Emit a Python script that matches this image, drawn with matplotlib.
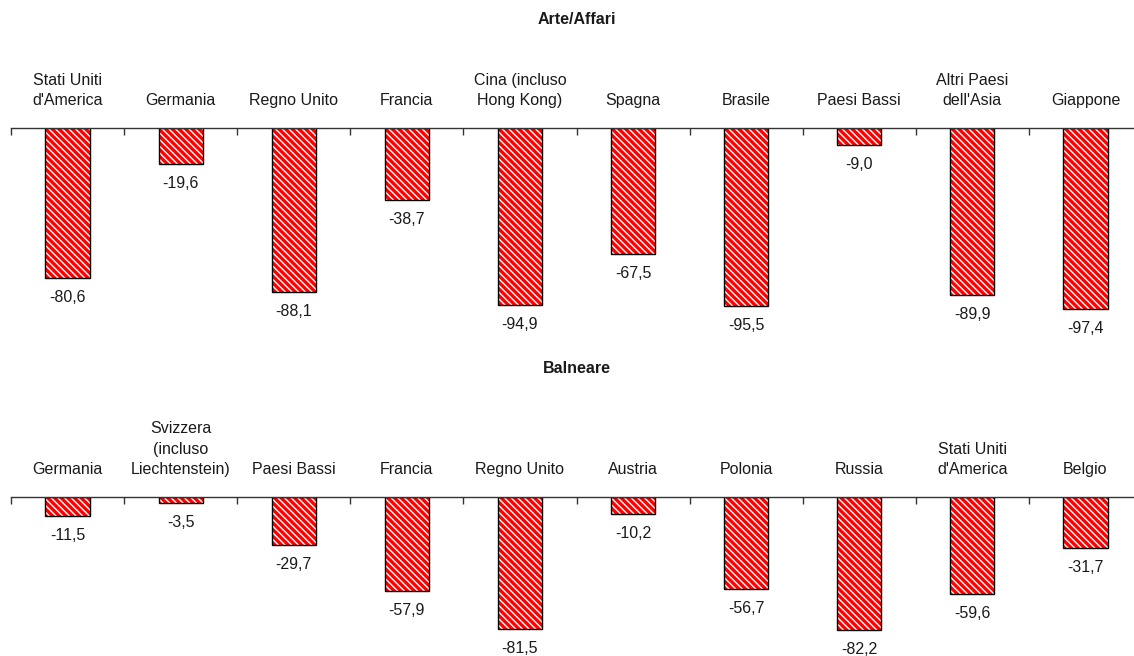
import matplotlib
matplotlib.use('Agg')
import matplotlib.pyplot as plt

plt.rcParams['font.family'] = ['Liberation Sans', 'DejaVu Sans']
plt.rcParams['hatch.linewidth'] = 1.0

# ---------------------------
# Data: variation (%) by country of origin
# ---------------------------
arte_paesi = ["Stati Uniti\nd'America", "Germania", "Regno Unito", "Francia",
              "Cina (incluso\nHong Kong)", "Spagna", "Brasile", "Paesi Bassi",
              "Altri Paesi\ndell'Asia", "Giappone"]
arte_var = [-80.6, -19.6, -88.1, -38.7, -94.9, -67.5, -95.5, -9.0, -89.9, -97.4]

balneare_paesi = ["Germania", "Svizzera\n(incluso\nLiechtenstein)", "Paesi Bassi",
                  "Francia", "Regno Unito", "Austria", "Polonia", "Russia",
                  "Stati Uniti\nd'America", "Belgio"]
balneare_var = [-11.5, -3.5, -29.7, -57.9, -81.5, -10.2, -56.7, -82.2, -59.6, -31.7]

W, H = 1134, 656
fig = plt.figure(figsize=(W / 100, H / 100), dpi=100)

FS = 11.5
TXT = '#1a1a1a'


def panel(top_px, px_per_unit, ymin, names, values, title, title_px):
    left_px, step = 11, 113.1
    n = len(values)
    width_px = step * n
    height_px = -ymin * px_per_unit
    ax = fig.add_axes([left_px / W, 1 - (top_px + height_px) / H,
                       width_px / W, height_px / H])
    x = list(range(n))
    # red fill with white diagonal stripes, then a black outline on top
    ax.bar(x, values, width=0.39, color='red', edgecolor='white',
           hatch='\\\\\\\\\\', linewidth=0)
    ax.bar(x, values, width=0.39, fill=False, edgecolor='black', linewidth=1.0)
    ax.set_xlim(-0.5, n - 0.5)
    ax.set_ylim(ymin, 0)
    for s in ['left', 'right', 'bottom']:
        ax.spines[s].set_visible(False)
    ax.spines['top'].set_color('#333333')
    ax.spines['top'].set_linewidth(1.0)
    ax.xaxis.tick_top()
    ax.set_xticks([i - 0.5 for i in range(n + 1)])
    ax.set_xticklabels([])
    ax.tick_params(axis='x', direction='in', length=5, width=1.0, color='#333333')
    ax.set_yticks([])
    for xi, name, v in zip(x, names, values):
        ax.annotate(name, (xi, 0), xytext=(0, 20), textcoords='offset pixels',
                    ha='center', va='bottom', fontsize=FS, color=TXT,
                    linespacing=1.45)
        ax.annotate(f"{v:.1f}".replace('.', ','), (xi, v), xytext=(0, -12),
                    textcoords='offset pixels', ha='center', va='top',
                    fontsize=FS, color=TXT)
    fig.text((left_px + width_px / 2) / W, 1 - title_px / H, title,
             ha='center', va='center', fontsize=FS, fontweight='bold', color=TXT)
    return ax


panel(128, 1.86, -105, arte_paesi, arte_var, 'Arte/Affari', 20)
panel(497, 1.62, -97, balneare_paesi, balneare_var, 'Balneare', 368)

fig.savefig('out.png', dpi=100, facecolor='white')
